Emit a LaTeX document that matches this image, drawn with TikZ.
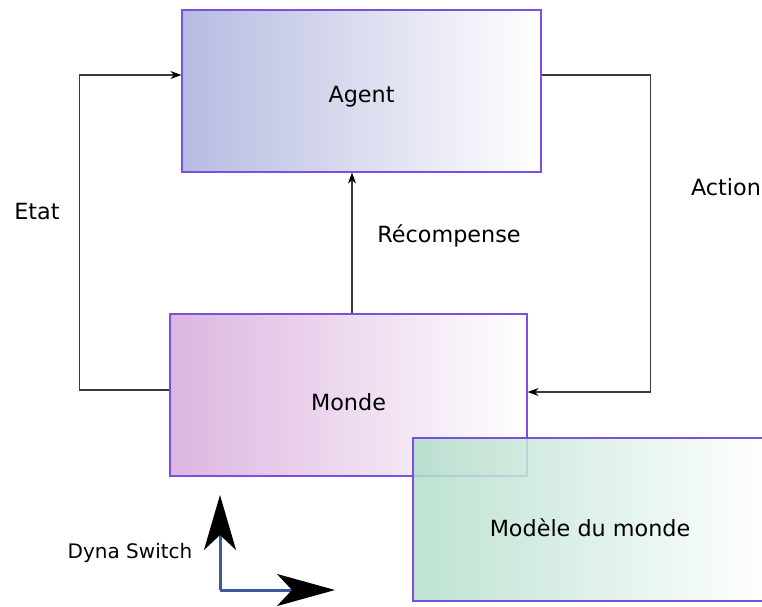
\documentclass[tikz,border=0pt]{standalone}
\usepackage{fontspec}
\setmainfont{DejaVu Sans}
\usetikzlibrary{arrows.meta,positioning,calc}
\definecolor{boxline}{HTML}{7A4FE2}
\definecolor{agentfill}{HTML}{B7BBE0}
\definecolor{mondefill}{HTML}{DCB6E0}
\definecolor{modelefill}{HTML}{B2DEC9}
\definecolor{switchblue}{HTML}{3A5A9C}
\definecolor{linkgray}{HTML}{3A3A3A}
\begin{document}
\begin{tikzpicture}[x=1pt, y=-1pt,
    box/.style={draw=boxline, line width=1.2pt, minimum width=359pt, minimum height=162pt,
        right color=white, text depth=0pt, font=\fontsize{22.3}{26}\selectfont},
    link/.style={draw=linkgray, line width=1.1pt, -{Stealth[length=11pt,width=8pt,color=black]}},
    lbl/.style={font=\fontsize{22.3}{26}\selectfont},
    switcharrow/.style={draw=switchblue, line width=3pt}]
    \useasboundingbox (0,0) rectangle (762,606);
    \clip (0,0) rectangle (762,606);

    % Boxes
    \node[box, left color=agentfill, text height=22pt] (agent) at (361.5,91) {Agent};
    \node[box, left color=mondefill, minimum width=357pt, text height=30pt] (monde) at (348.5,395) {Monde};
    \node[box, left color=modelefill, fill opacity=0.85, text opacity=1, text height=33pt,
        minimum width=354pt, minimum height=163pt] (modele) at (590,519.5) {Modèle du monde};

    % Arrows
    \draw[link] ([yshift=5pt]monde.west) -- ++(-90,0) |- ([yshift=16pt]agent.west);
    \draw[link] ([yshift=16pt]agent.east) -- ++(109,0) |- ([yshift=3pt]monde.east);
    \draw[link] ([xshift=3.5pt]monde.north) -- ([xshift=3.5pt]monde.north |- agent.south);

    % Labels
    \node[lbl] (etat) at (37,212) {Etat};
    \node[lbl] (action) at (726,187) {Action};
    \node[lbl] (recompense) at (449,236) {Récompense};

    % Dyna switch
    \coordinate (corner) at (220,590);
    \coordinate (uptip) at (220,495);
    \coordinate (righttip) at (335,590);
    \draw[switcharrow, -{Stealth[length=55pt,width=32pt,inset=15pt,color=black]}] (corner) -- (uptip);
    \draw[switcharrow, -{Stealth[length=58pt,width=32pt,inset=15pt,color=black]}] (corner) -- (righttip);
    \node[font=\fontsize{20}{24}\selectfont] (switch) at (130,553) {Dyna Switch};
\end{tikzpicture}
\end{document}
